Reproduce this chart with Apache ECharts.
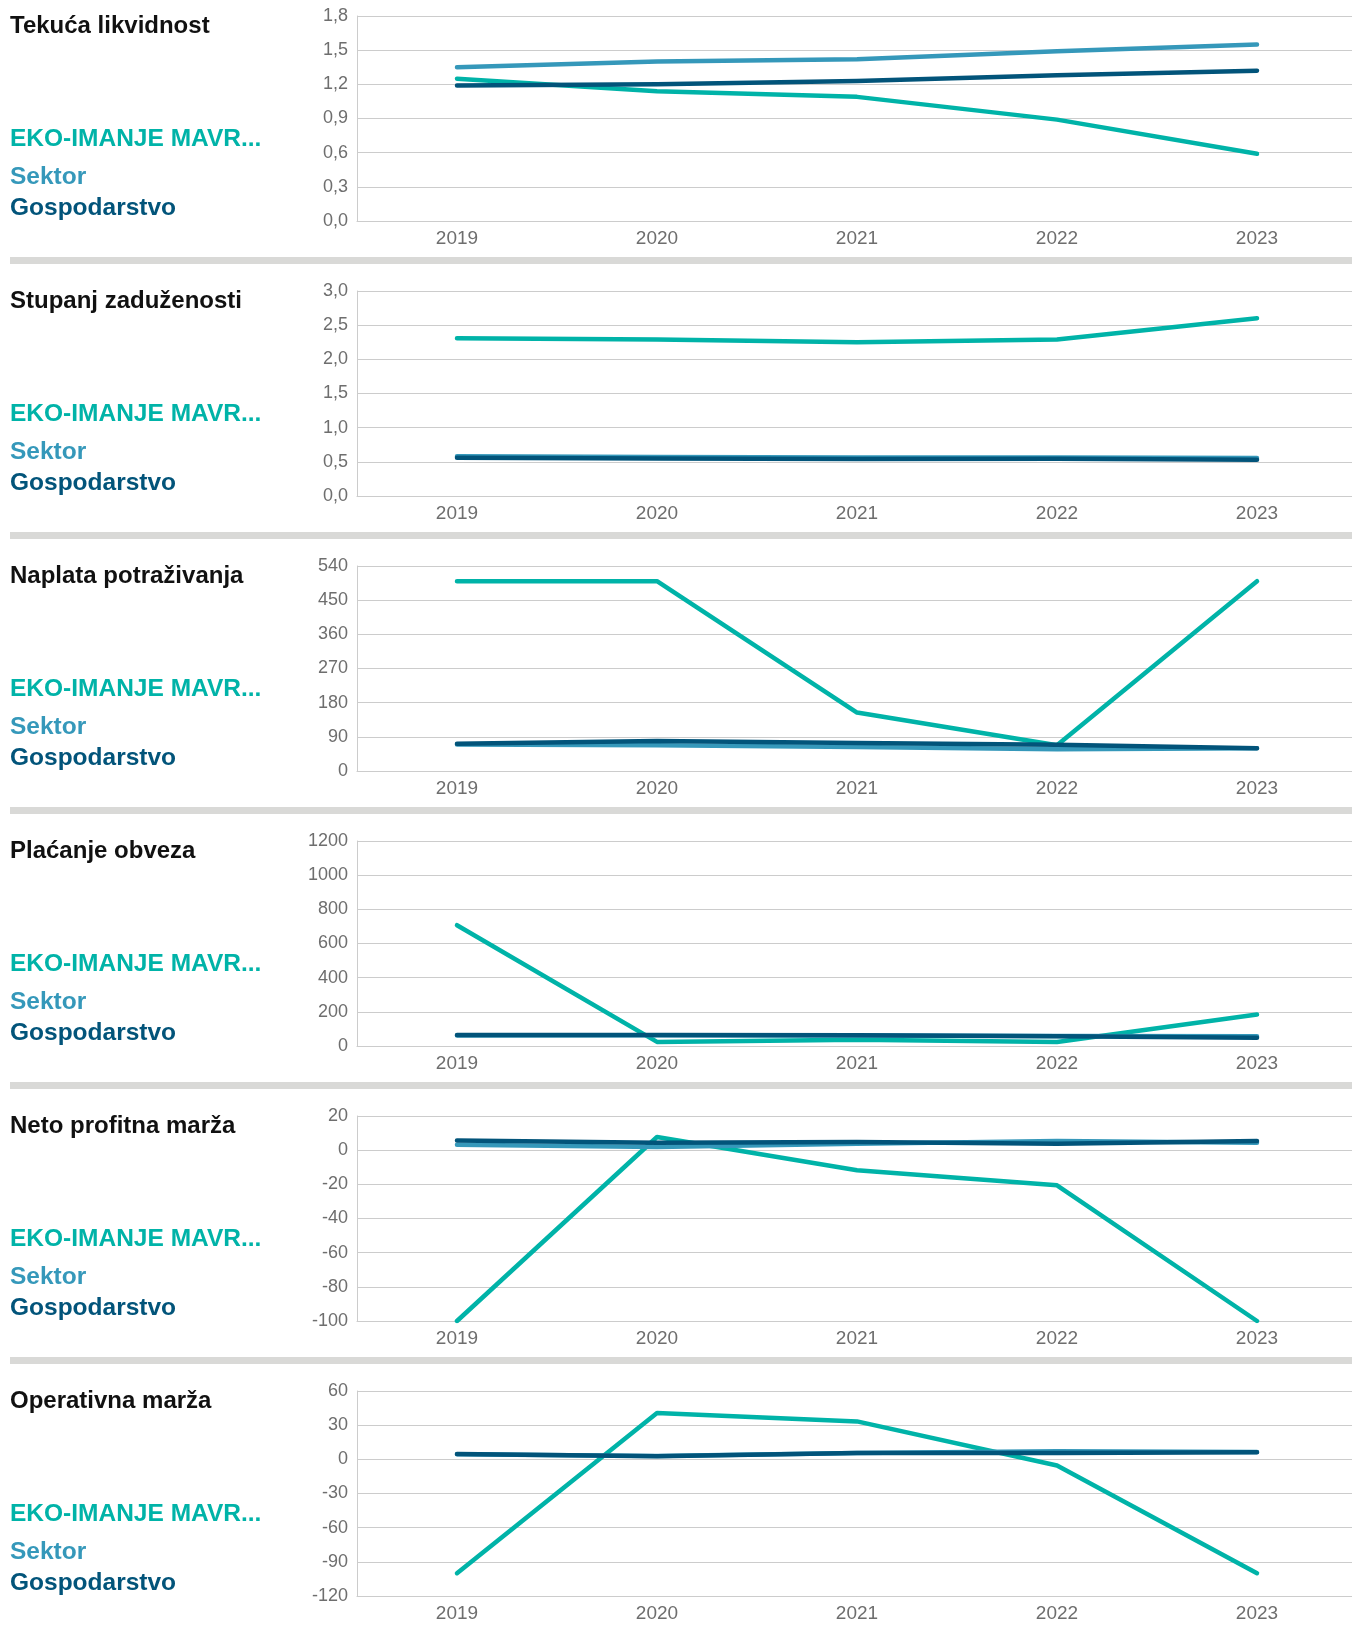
<!DOCTYPE html>
<html>
<head>
	<meta charset="utf-8">
	<title>Pokazatelji</title>
	<script type="text/javascript" src="https://cdn.jsdelivr.net/npm/echarts@6/dist/echarts.min.js"></script>
	<style>html, body { margin: 0; background: #fff; overflow: hidden; }</style>
</head>
<body>
<div id="main" style="width: 1360px; height: 1630px"></div>

<script type="text/javascript">
var years = ['2019', '2020', '2021', '2022', '2023'];
var names = ['EKO-IMANJE MAVR...', 'Sektor', 'Gospodarstvo'];
var colors = ['#00b3a8', '#3598ba', '#02547a'];

var titles = ['Tekuća likvidnost', 'Stupanj zaduženosti', 'Naplata potraživanja',
    'Plaćanje obveza', 'Neto profitna marža', 'Operativna marža'];

// osi: min, max, korak
var axisMin = [0, 0, 0, 0, -100, -120];
var axisMax = [1.8, 3, 540, 1200, 20, 60];
var axisStep = [0.3, 0.5, 90, 200, 20, 30];
var decimals = [1, 1, 0, 0, 0, 0];

var likvidnostEko = [1.25, 1.14, 1.09, 0.89, 0.59];
var likvidnostSektor = [1.35, 1.40, 1.42, 1.49, 1.55];
var likvidnostGosp = [1.19, 1.20, 1.23, 1.28, 1.32];

var zaduzenostEko = [2.31, 2.29, 2.25, 2.29, 2.60];
var zaduzenostSektor = [0.58, 0.57, 0.565, 0.565, 0.555];
var zaduzenostGosp = [0.56, 0.55, 0.54, 0.545, 0.53];

var naplataEko = [500, 500, 154, 68, 500];
var naplataSektor = [70, 68, 63, 57, 60];
var naplataGosp = [72, 79, 74, 69, 60];

var placanjeEko = [707, 24, 37, 24, 184];
var placanjeSektor = [62, 63, 62, 58, 57];
var placanjeGosp = [64, 64, 63, 57, 49];

var profitEko = [-100, 7.7, -11.8, -20.6, -100];
var profitSektor = [3.2, 1.8, 3.8, 5.4, 4.4];
var profitGosp = [5.7, 4.4, 4.8, 3.8, 5.4];

var operEko = [-100, 40.6, 33.3, -5.4, -100];
var operSektor = [4.5, 3.0, 5.5, 7.0, 6.5];
var operGosp = [4.6, 2.6, 5.5, 5.5, 6.3];

var panels = [
    [likvidnostEko, likvidnostSektor, likvidnostGosp],
    [zaduzenostEko, zaduzenostSektor, zaduzenostGosp],
    [naplataEko, naplataSektor, naplataGosp],
    [placanjeEko, placanjeSektor, placanjeGosp],
    [profitEko, profitSektor, profitGosp],
    [operEko, operSektor, operGosp]
];

var myChart = echarts.init(document.getElementById('main'));

var step = 275;
var grids = [], xAxes = [], yAxes = [], series = [], graphics = [];
var labelFont = 'Liberation Sans, Arial, sans-serif';

panels.forEach(function (panel, i) {
    var off = step * i;
    // mreza ide malo preko desnog ruba, kao na originalu
    grids.push({left: 357, top: 16 + off, width: 1000, height: 205});

    xAxes.push({
        type: 'category',
        gridIndex: i,
        data: years,
        boundaryGap: true,
        axisLine: {onZero: false, lineStyle: {color: '#cccccc', width: 1}},
        axisTick: {show: false},
        axisLabel: {color: '#6e6e6e', fontSize: 19, fontFamily: labelFont, margin: 8}
    });

    var dec = decimals[i];
    yAxes.push({
        type: 'value',
        gridIndex: i,
        min: axisMin[i],
        max: axisMax[i],
        interval: axisStep[i],
        axisLine: {show: true, lineStyle: {color: '#cccccc', width: 1}},
        axisTick: {show: false},
        splitLine: {lineStyle: {color: '#cccccc', width: 1}},
        axisLabel: {
            color: '#6e6e6e', fontSize: 18, fontFamily: labelFont, margin: 9,
            formatter: function (v) {
                return dec ? v.toFixed(dec).replace('.', ',') : String(Math.round(v));
            }
        }
    });

    panel.forEach(function (vals, k) {
        series.push({
            name: names[k],
            type: 'line',
            xAxisIndex: i,
            yAxisIndex: i,
            data: vals,
            symbol: 'none',
            z: 2 + k,
            lineStyle: {color: colors[k], width: 4.5, cap: 'round', join: 'round'},
            itemStyle: {color: colors[k]}
        });
    });

    // naslov i "legenda"
    graphics.push({
        type: 'text', x: 10, y: 26 + off,
        style: {text: titles[i], fill: '#111111', font: 'bold 24px ' + labelFont, verticalAlign: 'middle'}
    });
    var legY = [139.5, 177.5, 208.5];
    names.forEach(function (n, k) {
        graphics.push({
            type: 'text', x: 10, y: legY[k] + off,
            style: {text: n, fill: colors[k], font: 'bold 24.5px ' + labelFont, verticalAlign: 'middle'}
        });
    });

    if (i < panels.length - 1) {
        graphics.push({
            type: 'rect',
            shape: {x: 10, y: 257 + off, width: 1350, height: 7},
            style: {fill: '#d9d9d7'}
        });
    }
});

option = {
    animation: false,
    backgroundColor: '#ffffff',
    grid: grids,
    xAxis: xAxes,
    yAxis: yAxes,
    series: series,
    graphic: graphics
};

myChart.setOption(option);
</script>
</body>
</html>
